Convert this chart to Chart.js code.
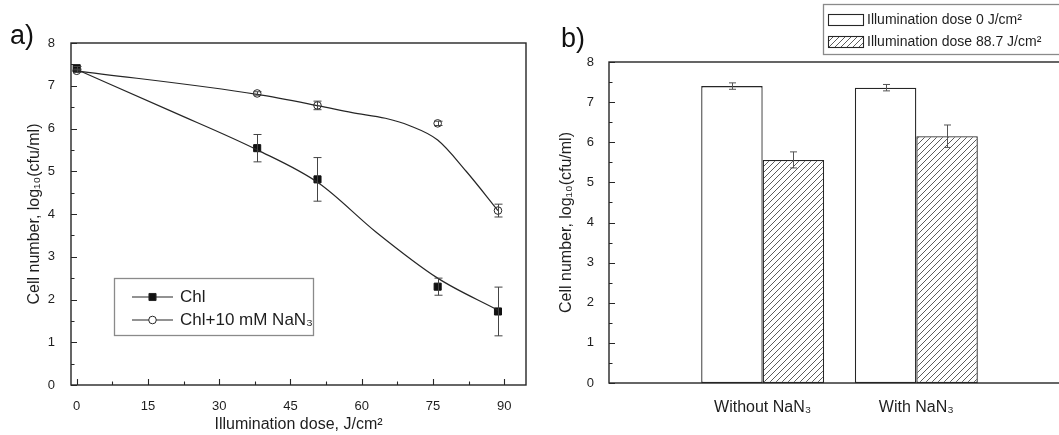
<!DOCTYPE html>
<html>
<head>
<meta charset="utf-8">
<script src="https://cdn.jsdelivr.net/npm/chart.js@4.4.1/dist/chart.umd.min.js"></script>
<style>
  html, body { margin: 0; padding: 0; background: #fff; overflow: hidden; width: 1059px; height: 435px; }
  .wrap { position: absolute; top: 0; width: 540px; height: 435px; }
  .tag { position: absolute; font: 27px 'Liberation Sans', Arial, sans-serif; color: #111; line-height: 30px; }
</style>
</head>
<body>
<div class="wrap" style="left:0"><canvas id="chartA" width="540" height="435"></canvas></div>
<div class="wrap" style="left:540px"><canvas id="chartB" width="540" height="435"></canvas></div>
<div class="tag" style="left:10px; top:20px;">a)</div>
<div class="tag" style="left:561px; top:23px;">b)</div>
<script>
// ---------------------------------------------------------------
// panel a: survival vs illumination dose
// ---------------------------------------------------------------
const doses = [0, 38, 50.7, 76, 88.7];
const chlMean = [7.41, 5.54, 4.81, 2.30, 1.72];
const chlErr = [0.04, 0.32, 0.51, 0.20, 0.57];
const azideMean = [7.35, 6.82, 6.54, 6.12, 4.08];
const azideErr = [0.04, 0.04, 0.10, 0.05, 0.15];

// fitted curves
const chlFitX = [0, 20, 38, 51, 63, 76, 88.7];
const chlFitY = [7.38, 6.40, 5.50, 4.72, 3.58, 2.50, 1.75];
const azideFitX = [0, 38, 51, 58, 65, 70, 76, 82, 88.7];
const azideFitY = [7.35, 6.80, 6.53, 6.37, 6.24, 6.07, 5.73, 5.00, 4.08];

const xTicksA = [0, 15, 30, 45, 60, 75, 90];

// ---------------------------------------------------------------
// panel b: bars
// ---------------------------------------------------------------
const groups = ['Without NaN\u2083', 'With NaN\u2083'];
const dose0Mean = [7.40, 7.36];
const dose0Err = [0.08, 0.08];
const dose887Mean = [5.56, 6.15];
const dose887Err = [0.20, 0.28];

const FONT = "'Liberation Sans', Arial, sans-serif";
const INK = '#1e1e1e';
Chart.defaults.font.family = FONT;
Chart.defaults.color = INK;

const pts = (xs, ys) => xs.map((x, i) => ({x: x, y: ys[i]}));

// box round the plot + inward ticks (major and half-step minor)
const frameTicks = {
  id: 'frameTicks',
  afterDraw(chart, args, opts) {
    const {ctx, chartArea: a, scales} = chart;
    ctx.save();
    ctx.strokeStyle = '#262626';
    ctx.lineWidth = 1.4;
    ctx.strokeRect(a.left, a.top, a.right - a.left, a.bottom - a.top);
    ctx.lineWidth = 1.1;
    ctx.beginPath();
    const yv = scales.y.ticks.map(t => t.value);
    yv.forEach((v, i) => {
      const p = Math.round(scales.y.getPixelForValue(v)) + 0.5;
      ctx.moveTo(a.left, p); ctx.lineTo(a.left + 6, p);
      if (i < yv.length - 1) {
        const m = Math.round(scales.y.getPixelForValue((v + yv[i + 1]) / 2)) + 0.5;
        ctx.moveTo(a.left, m); ctx.lineTo(a.left + 3.5, m);
      }
    });
    if (opts.xTicks) {
      const xs = scales.x;
      const xv = xs.ticks.map(t => t.value);
      xv.forEach((v, i) => {
        const p = Math.round(xs.getPixelForValue(v)) + 0.5;
        ctx.moveTo(p, a.bottom); ctx.lineTo(p, a.bottom - 6);
        if (i < xv.length - 1) {
          const m = Math.round(xs.getPixelForValue((v + xv[i + 1]) / 2)) + 0.5;
          ctx.moveTo(m, a.bottom); ctx.lineTo(m, a.bottom - 3.5);
        }
      });
    }
    ctx.stroke();
    ctx.restore();
  }
};

// error bars from dataset.errors
const errorBars = {
  id: 'errorBars',
  afterDatasetsDraw(chart, args, opts) {
    const {ctx, scales} = chart;
    ctx.save();
    ctx.strokeStyle = opts.color || '#444';
    ctx.lineWidth = 1;
    chart.data.datasets.forEach((ds, di) => {
      if (!ds.errors) return;
      const meta = chart.getDatasetMeta(di);
      meta.data.forEach((el, j) => {
        const raw = ds.data[j];
        if (raw === null || raw === undefined) return;
        const v = typeof raw === 'object' ? raw.y : raw;
        const e = ds.errors[ds.errIndex ? ds.errIndex(j) : j];
        if (e === undefined) return;
        const x = Math.round(el.x) + 0.5;
        const t = scales.y.getPixelForValue(v + e);
        const b = scales.y.getPixelForValue(v - e);
        const c = opts.cap || 4;
        ctx.beginPath();
        ctx.moveTo(x, t); ctx.lineTo(x, b);
        ctx.moveTo(x - c, t); ctx.lineTo(x + c, t);
        ctx.moveTo(x - c, b); ctx.lineTo(x + c, b);
        ctx.stroke();
      });
    });
    ctx.restore();
  }
};

const legendA = {
  id: 'legendA',
  afterDraw(chart) {
    const ctx = chart.ctx;
    ctx.save();
    ctx.strokeStyle = '#8a8a8a';
    ctx.lineWidth = 1.3;
    ctx.strokeRect(114.5, 278.5, 199, 57);
    const items = [chart.data.datasets[2], chart.data.datasets[3]];
    items.forEach((ds, i) => {
      const y = 297 + i * 23;
      ctx.strokeStyle = '#262626';
      ctx.lineWidth = 1.2;
      ctx.beginPath(); ctx.moveTo(132, y); ctx.lineTo(173, y); ctx.stroke();
      ctx.fillStyle = ds.pointStyle === 'rect' ? '#111' : '#fff';
      ctx.lineWidth = ds.borderWidth;
      Chart.helpers.drawPoint(ctx, {pointStyle: ds.pointStyle, radius: ds.pointRadius, borderWidth: ds.borderWidth, rotation: 0}, 152.5, y);
      ctx.fillStyle = INK;
      ctx.font = '17px ' + FONT;
      ctx.textBaseline = 'middle';
      ctx.fillText(ds.label, 180, y);
    });
    ctx.restore();
  }
};

const chartA = new Chart(document.getElementById('chartA'), {
  type: 'scatter',
  data: {
    datasets: [
      {
        label: 'Chl fit',
        data: pts(chlFitX, chlFitY),
        showLine: true,
        pointRadius: 0,
        borderColor: '#262626',
        borderWidth: 1.2,
        cubicInterpolationMode: 'monotone'
      },
      {
        label: 'Chl+NaN3 fit',
        data: pts(azideFitX, azideFitY),
        showLine: true,
        pointRadius: 0,
        borderColor: '#262626',
        borderWidth: 1.2,
        cubicInterpolationMode: 'monotone'
      },
      {
        label: 'Chl',
        data: pts(doses, chlMean),
        showLine: false,
        pointStyle: 'rect',
        pointRadius: 5,
        backgroundColor: '#111',
        borderColor: '#111',
        borderWidth: 1,
        errors: chlErr
      },
      {
        label: 'Chl+10 mM NaN\u2083',
        data: pts(doses, azideMean),
        showLine: false,
        pointStyle: 'circle',
        pointRadius: 3.8,
        backgroundColor: 'rgba(255,255,255,0)',
        borderColor: '#262626',
        borderWidth: 1,
        errors: azideErr
      }
    ]
  },
  options: {
    responsive: false,
    animation: false,
    layout: {padding: {top: 43, right: 14, left: 0, bottom: 0}},
    plugins: {
      legend: {display: false},
      tooltip: {enabled: false},
      frameTicks: {xTicks: true},
      errorBars: {color: '#444', cap: 4}
    },
    scales: {
      x: {
        type: 'linear',
        min: -1.2,
        max: 94.6,
        afterFit(s) { s.height = 50; },
        afterBuildTicks(s) { s.ticks = xTicksA.map(v => ({value: v})); },
        grid: {display: false},
        border: {display: false},
        ticks: {padding: 6, font: {size: 13}, color: INK, maxRotation: 0},
        title: {display: true, text: 'Illumination dose, J/cm\u00b2', font: {size: 16}, color: INK, padding: {top: 0, bottom: 1}}
      },
      y: {
        min: 0,
        max: 8,
        afterFit(s) { s.width = 71; },
        grid: {display: false},
        border: {display: false},
        ticks: {stepSize: 1, padding: 8, font: {size: 13}, color: INK},
        title: {display: true, text: 'Cell number, log\u2081\u2080(cfu/ml)', font: {size: 16}, color: INK, padding: {top: 25, bottom: 0}}
      }
    }
  },
  plugins: [frameTicks, errorBars, legendA]
});

// ---------------------------------------------------------------
// panel b
// ---------------------------------------------------------------
const ctxB = document.getElementById('chartB').getContext('2d');
function makeHatch() {
  const c = document.createElement('canvas');
  c.width = 6; c.height = 6;
  const g = c.getContext('2d');
  g.fillStyle = '#fff';
  g.fillRect(0, 0, 6, 6);
  g.strokeStyle = '#4a4a4a';
  g.lineWidth = 0.9;
  g.beginPath();
  g.moveTo(0, 6); g.lineTo(6, 0);
  g.moveTo(-1, 1); g.lineTo(1, -1);
  g.moveTo(5, 7); g.lineTo(7, 5);
  g.stroke();
  return ctxB.createPattern(c, 'repeat');
}
const hatch = makeHatch();
const padEnds = arr => [null].concat(arr, [null]);

const legendB = {
  id: 'legendB',
  afterDraw(chart) {
    const ctx = chart.ctx;
    ctx.save();
    ctx.strokeStyle = '#8a8a8a';
    ctx.lineWidth = 1.3;
    ctx.strokeRect(283.5, 4.5, 260, 50);
    chart.data.datasets.forEach((ds, i) => {
      const y = 20 + i * 22;
      ctx.fillStyle = ds.backgroundColor;
      ctx.fillRect(288.5, y - 5.5, 35, 11);
      ctx.strokeStyle = '#262626';
      ctx.lineWidth = 1.1;
      ctx.strokeRect(288.5, y - 5.5, 35, 11);
      ctx.fillStyle = INK;
      ctx.font = '14px ' + FONT;
      ctx.textBaseline = 'middle';
      ctx.fillText(ds.label, 327, y);
    });
    ctx.restore();
  }
};

const chartB = new Chart(ctxB, {
  type: 'bar',
  data: {
    labels: [''].concat(groups, ['']),
    datasets: [
      {
        label: 'Illumination dose 0 J/cm\u00b2',
        data: padEnds(dose0Mean),
        errors: padEnds(dose0Err),
        backgroundColor: '#fff',
        borderColor: '#262626',
        borderWidth: 1.3,
        borderSkipped: false
      },
      {
        label: 'Illumination dose 88.7 J/cm\u00b2',
        data: padEnds(dose887Mean),
        errors: padEnds(dose887Err),
        backgroundColor: hatch,
        borderColor: '#262626',
        borderWidth: 1.3,
        borderSkipped: false
      }
    ]
  },
  options: {
    responsive: false,
    animation: false,
    categoryPercentage: 0.8,
    barPercentage: 1.0,
    layout: {padding: {top: 62, right: 10, left: 0, bottom: 0}},
    plugins: {
      legend: {display: false},
      tooltip: {enabled: false},
      frameTicks: {xTicks: false},
      errorBars: {color: '#555', cap: 3.5}
    },
    scales: {
      x: {
        type: 'category',
        offset: false,
        afterFit(s) { s.height = 52; },
        grid: {display: false},
        border: {display: false},
        ticks: {padding: 7, font: {size: 16}, color: INK, maxRotation: 0, autoSkip: false}
      },
      y: {
        min: 0,
        max: 8,
        afterFit(s) { s.width = 69; },
        grid: {display: false},
        border: {display: false},
        ticks: {stepSize: 1, padding: 7, font: {size: 13}, color: INK},
        title: {display: true, text: 'Cell number, log\u2081\u2080(cfu/ml)', font: {size: 16}, color: INK, padding: {top: 17, bottom: 0}}
      }
    }
  },
  plugins: [frameTicks, errorBars, legendB]
});
</script>
</body>
</html>
